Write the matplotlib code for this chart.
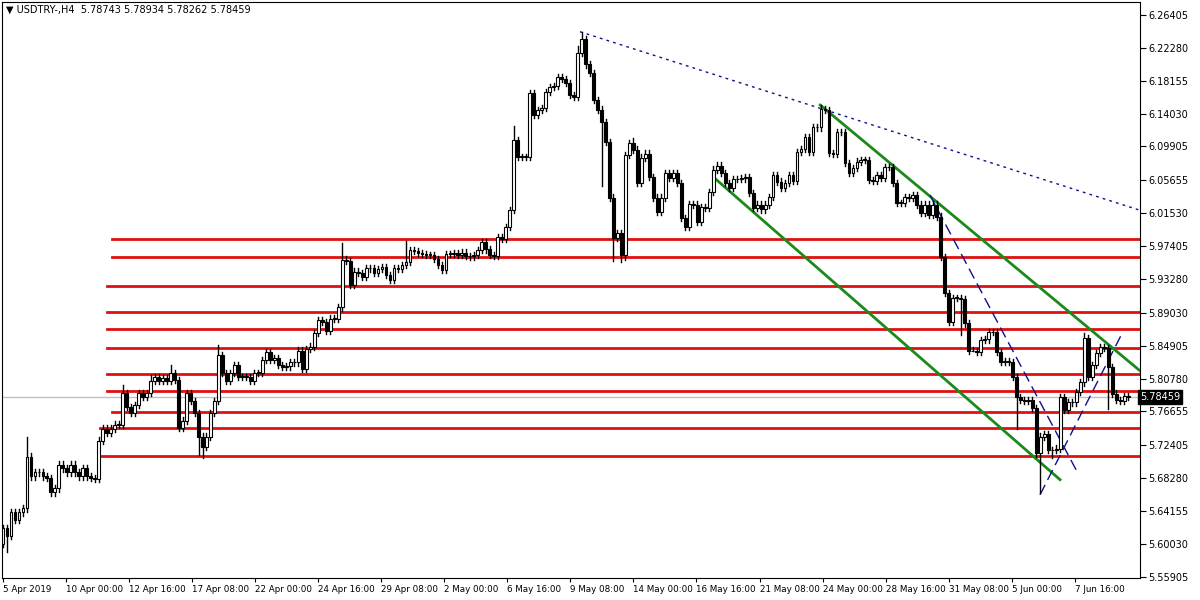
import matplotlib
matplotlib.use("Agg")
import matplotlib.pyplot as plt
from matplotlib.patches import Rectangle

closes = [
5.620,5.610,5.640,5.630,5.640,5.645,5.710,5.685,5.690,5.690,5.685,5.683,5.665,5.670,5.700,5.695,
5.690,5.700,5.690,5.685,5.695,5.685,5.683,5.682,5.730,5.745,5.740,5.745,5.750,5.750,5.790,5.772,
5.765,5.775,5.790,5.785,5.790,5.805,5.810,5.805,5.808,5.805,5.815,5.806,5.746,5.755,5.790,5.780,
5.765,5.735,5.722,5.735,5.765,5.780,5.837,5.815,5.805,5.815,5.825,5.810,5.810,5.810,5.805,5.815,
5.815,5.831,5.841,5.831,5.834,5.825,5.822,5.823,5.828,5.828,5.843,5.820,5.845,5.848,5.865,5.881,
5.879,5.868,5.883,5.883,5.897,5.957,5.955,5.925,5.942,5.940,5.935,5.946,5.946,5.940,5.945,5.948,
5.938,5.932,5.946,5.945,5.950,5.954,5.969,5.968,5.965,5.964,5.963,5.963,5.958,5.950,5.944,5.964,
5.964,5.965,5.963,5.966,5.962,5.961,5.963,5.969,5.979,5.970,5.963,5.962,5.985,5.983,5.998,
6.019,6.107,6.086,6.086,6.086,6.166,6.139,6.145,6.147,6.167,6.174,6.175,6.186,6.184,6.179,6.164,
6.161,6.216,6.234,6.202,6.191,6.157,6.145,6.130,6.105,6.035,5.984,5.990,5.963,6.088,6.103,6.095,
6.053,6.085,6.090,6.061,6.035,6.017,6.035,6.066,6.060,6.066,6.053,6.009,5.998,6.027,6.026,6.004,
6.023,6.022,6.042,6.070,6.075,6.066,6.053,6.047,6.058,6.058,6.059,6.061,6.041,6.022,
6.026,6.020,6.026,6.036,6.063,6.055,6.047,6.053,6.063,6.056,6.092,6.096,6.111,6.092,6.123,6.123,
6.146,6.145,6.091,6.090,6.117,6.117,6.078,6.066,6.072,6.080,6.082,6.082,6.057,6.056,6.063,6.060,
6.073,6.073,6.053,6.028,6.028,6.036,6.035,6.038,6.026,6.016,6.026,6.013,6.026,6.011,5.960,5.915,
5.879,5.909,5.909,5.908,5.877,5.843,5.842,5.841,5.856,5.857,5.866,5.866,5.841,5.829,5.830,5.829,
5.810,5.785,5.781,5.780,5.781,5.771,5.714,5.735,5.738,5.718,5.718,5.720,5.785,5.769,5.778,5.778,
5.791,5.803,5.859,5.810,5.825,5.840,5.847,5.846,5.822,5.789,5.781,5.780,5.786,5.7846]
first_open = 5.600
# notable wick extremes: index -> price
wick_highs = {6: 5.735, 30: 5.800, 37: 5.812, 42: 5.825, 54: 5.850, 85: 5.978, 101: 5.980,
              128: 6.125, 144: 6.225, 145: 6.243, 150: 6.150, 158: 6.110, 205: 6.151,
              206: 6.150, 271: 5.865}
wick_lows = {1: 5.590, 49: 5.712, 50: 5.708, 150: 6.050, 153: 5.955, 155: 5.954, 156: 5.957,
             240: 5.862, 243: 5.862, 254: 5.745, 260: 5.664, 263: 5.708, 277: 5.770}
wick = 0.004

levels = [5.983, 5.960, 5.924, 5.891, 5.870, 5.846, 5.814, 5.792, 5.766, 5.746, 5.711]
level_start = [27.3, 27.3, 26.1, 26.1, 26.1, 26.1, 26.1, 26.1, 27.3, 24.3, 24.3]
ytick_vals = [6.26405, 6.22280, 6.18155, 6.14030, 6.09905, 6.05655, 6.01530, 5.97405, 5.93280,
              5.89030, 5.84905, 5.80780, 5.76655, 5.72405, 5.68280, 5.64155, 5.60030, 5.55905]
xlabels = ["5 Apr 2019", "10 Apr 00:00", "12 Apr 16:00", "17 Apr 08:00", "22 Apr 00:00",
           "24 Apr 16:00", "29 Apr 08:00", "2 May 00:00", "6 May 16:00", "9 May 08:00",
           "14 May 00:00", "16 May 16:00", "21 May 08:00", "24 May 00:00", "28 May 16:00",
           "31 May 08:00", "5 Jun 00:00", "7 Jun 16:00"]
green_up = ([204.8, 288.7], [6.151, 5.802])
green_dn = ([178.4, 264.9], [6.059, 5.681])
blue_dot = ([144.6, 288.7], [6.243, 6.013])
blue_d1 = ([232.3, 269.4], [6.038, 5.689])
blue_d2 = ([259.9, 280.5], [5.662, 5.865])
last_price = 5.78459

fig = plt.figure(figsize=(12, 6), dpi=100)
ax = fig.add_axes([2/1200, 22/600, 1138/1200, 576/600])
ax.set_xlim(-0.25, 284.95)
ax.set_ylim(5.5576, 6.2803)

ax.axhline(last_price, color="#c0c0c0", lw=1, zorder=1)
for lv, st in zip(levels, level_start):
    ax.plot([st, 300], [lv, lv], color="#e01010", lw=2, zorder=2)
ax.plot(*green_up, color="#1a8a1a", lw=2, zorder=4)
ax.plot(*green_dn, color="#1a8a1a", lw=2, zorder=4)
ax.plot(*blue_dot, color="#10108a", lw=1, ls=(0, (2, 3)), zorder=4)
ax.plot(*blue_d1, color="#10108a", lw=1, ls=(0, (8, 4)), zorder=4)
ax.plot(*blue_d2, color="#10108a", lw=1, ls=(0, (8, 4)), zorder=4)

prev = first_open
for i, c in enumerate(closes):
    o = prev
    hi = max(wick_highs.get(i, max(o, c) + wick), max(o, c))
    lo = min(wick_lows.get(i, min(o, c) - wick), min(o, c))
    ax.plot([i, i], [lo, hi], color="black", lw=1, zorder=5)
    bottom = min(o, c)
    h = max(abs(c - o), 0.0008)
    ax.add_patch(Rectangle((i - 0.35, bottom), 0.7, h,
                           facecolor="white" if c >= o else "black",
                           edgecolor="black", lw=0.8, zorder=6))
    prev = c

ax.yaxis.tick_right()
ax.set_yticks(ytick_vals)
ax.set_yticklabels([f"{v:.5f}" for v in ytick_vals], fontsize=7)
ax.tick_params(axis="y", length=4, pad=2)
ax.set_xticks([15.8*k for k in range(len(xlabels))])
ax.set_xticklabels(xlabels, fontsize=6.3, ha="left")
ax.tick_params(axis="x", length=3, pad=2)
for s in ax.spines.values():
    s.set_color("black")

ax.text(1.0, last_price, f"{last_price:.5f}", transform=ax.get_yaxis_transform(),
        fontsize=7, color="white", va="center", ha="left",
        bbox=dict(boxstyle="square,pad=0.2", fc="black", ec="black"))
fig.text(6/1200, 1 - 10/600, "▼ USDTRY-,H4  5.78743 5.78934 5.78262 5.78459",
         fontsize=7, va="center", ha="left")

fig.savefig("out.png")
